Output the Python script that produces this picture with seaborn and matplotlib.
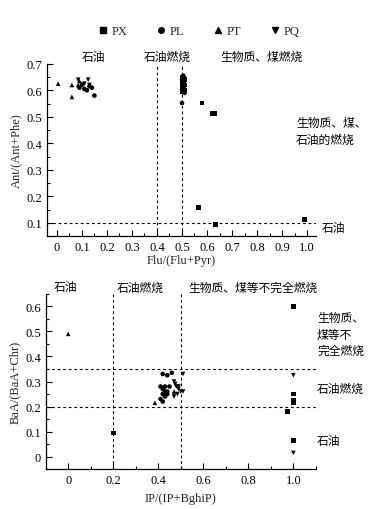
import numpy as np
import pandas as pd
import matplotlib
matplotlib.use("Agg")
import matplotlib.pyplot as plt
from matplotlib.lines import Line2D
from matplotlib.ticker import MultipleLocator, FuncFormatter
import seaborn as sns

# ---------------- data ----------------
groups = ["PX", "PL", "PT", "PQ"]
markers = {"PX": "s", "PL": "o", "PT": "^", "PQ": "v"}

# top panel: Flu/(Flu+Pyr) vs Ant/(Ant+Phe)
top_px_x = [0.50, 0.505, 0.51, 0.50, 0.505, 0.51, 0.50, 0.505, 0.51, 0.50, 0.505, 0.58, 0.62, 0.63, 0.567, 0.635, 0.99]
top_px_y = [0.65, 0.645, 0.64, 0.63, 0.625, 0.62, 0.61, 0.605, 0.60, 0.595, 0.635, 0.552, 0.512, 0.512, 0.157, 0.093, 0.113]
top_pl_x = [0.09, 0.11, 0.12, 0.13, 0.14, 0.15, 0.10, 0.50, 0.505, 0.51, 0.50, 0.505]
top_pl_y = [0.61, 0.605, 0.60, 0.615, 0.61, 0.58, 0.62, 0.552, 0.615, 0.59, 0.64, 0.655]
top_pt_x = [0.005, 0.06, 0.06, 0.09, 0.10, 0.085]
top_pt_y = [0.625, 0.62, 0.575, 0.635, 0.625, 0.62]
top_pq_x = [0.085, 0.125, 0.11, 0.13]
top_pq_y = [0.64, 0.64, 0.625, 0.62]

# bottom panel: IP/(IP+BghiP) vs BaA/(BaA+Chr)
bot_px_x = [0.20, 1.00, 1.00, 1.00, 1.00, 0.975, 1.00]
bot_px_y = [0.095, 0.60, 0.25, 0.225, 0.215, 0.18, 0.065]
bot_pl_x = [0.41, 0.42, 0.43, 0.42, 0.43, 0.41, 0.42, 0.44, 0.43, 0.44, 0.42, 0.44, 0.46, 0.45]
bot_pl_y = [0.28, 0.27, 0.28, 0.25, 0.24, 0.23, 0.22, 0.26, 0.26, 0.25, 0.33, 0.325, 0.335, 0.28]
bot_pt_x = [0.00, 0.385, 0.47]
bot_pt_y = [0.49, 0.215, 0.26]
bot_pq_x = [0.47, 0.475, 0.48, 0.49, 0.50, 0.51, 0.485, 0.47, 0.49, 0.51, 1.00, 1.00]
bot_pq_y = [0.30, 0.29, 0.28, 0.27, 0.26, 0.26, 0.25, 0.24, 0.28, 0.33, 0.325, 0.015]


def frame(xs, ys):
    rows = []
    for g, x, y in zip(groups, xs, ys):
        for a, b in zip(x, y):
            rows.append((g, a, b))
    return pd.DataFrame(rows, columns=["group", "x", "y"])


top_df = frame([top_px_x, top_pl_x, top_pt_x, top_pq_x], [top_px_y, top_pl_y, top_pt_y, top_pq_y])
bot_df = frame([bot_px_x, bot_pl_x, bot_pt_x, bot_pq_x], [bot_px_y, bot_pl_y, bot_pt_y, bot_pq_y])

# ---------------- style ----------------
sns.set_theme(style="ticks")
plt.rcParams["font.family"] = ["Liberation Serif", "Noto Sans CJK SC"]
plt.rcParams["axes.unicode_minus"] = False

fig = plt.figure(figsize=(3.81, 5.10), dpi=100)
ax1 = fig.add_axes([0.123, 0.535, 0.706, 0.338])
ax2 = fig.add_axes([0.120, 0.078, 0.709, 0.344])

fmt = FuncFormatter(lambda v, p: "0" if abs(v) < 1e-9 else f"{v:.1f}")
dash = dict(color="black", lw=0.8, ls=(0, (2.5, 2.5)))
cjk = ["Noto Sans CJK SC", "Liberation Serif"]
fs_cn = 8.5

for ax, df in [(ax1, top_df), (ax2, bot_df)]:
    sns.scatterplot(data=df, x="x", y="y", style="group", markers=markers,
                    style_order=groups, color="black", s=11, linewidth=0,
                    edgecolor="black", legend=False, ax=ax)
    for side in ["top", "right"]:
        ax.spines[side].set_visible(False)
    for side in ["left", "bottom"]:
        ax.spines[side].set_linewidth(0.9)
        ax.spines[side].set_color("black")
    ax.tick_params(which="both", direction="in", labelsize=9, colors="black")
    ax.tick_params(which="major", length=4, width=0.8)
    ax.tick_params(which="minor", length=2.5, width=0.8)
    ax.xaxis.set_major_formatter(fmt)
    ax.yaxis.set_major_formatter(fmt)

# top panel
ax1.set_xlim(-0.04, 1.035)
ax1.set_ylim(0.05, 0.70)
ax1.set_xticks(np.round(np.arange(0, 1.01, 0.1), 1))
ax1.xaxis.set_minor_locator(MultipleLocator(0.05))
ax1.set_yticks(np.round(np.arange(0.1, 0.71, 0.1), 1))
ax1.yaxis.set_minor_locator(MultipleLocator(0.05))
ax1.axvline(0.4, **dash)
ax1.axvline(0.5, **dash)
ax1.axhline(0.1, **dash)
ax1.set_xlabel("Flu/(Flu+Pyr)", fontsize=9, labelpad=1)
ax1.set_ylabel("Ant/(Ant+Phe)", fontsize=9, labelpad=3)

# bottom panel
ax2.set_xlim(-0.1, 1.1)
ax2.set_ylim(-0.05, 0.65)
ax2.set_xticks([0, 0.2, 0.4, 0.6, 0.8, 1.0])
ax2.xaxis.set_minor_locator(MultipleLocator(0.1))
ax2.set_yticks([0, 0.1, 0.2, 0.3, 0.4, 0.5, 0.6])
ax2.yaxis.set_minor_locator(MultipleLocator(0.05))
ax2.axvline(0.2, **dash)
ax2.axvline(0.5, **dash)
ax2.axhline(0.35, **dash)
ax2.axhline(0.2, **dash)
ax2.set_xlabel("IP/(IP+BghiP)", fontsize=9, labelpad=4)
ax2.set_ylabel("BaA/(BaA+Chr)", fontsize=9, labelpad=3)

# legend at top
handles = [Line2D([], [], marker=markers[g], color="black", ls="none", markersize=4)
           for g in groups]
fig.legend(handles, groups, loc="center", bbox_to_anchor=(0.52, 0.937), ncol=4,
           frameon=False, fontsize=9, handletextpad=0.2, columnspacing=2.2,
           handlelength=1.0)


def ftext(px, py, s, ha="center"):
    fig.text(px / 381, 1 - py / 510, s, ha=ha, va="center", fontsize=fs_cn,
             family=cjk, color="black", linespacing=1.35)


# top annotations
ftext(93, 57, "石油")
ftext(167, 57, "石油燃烧")
ftext(262, 57, "生物质、煤燃烧")
ftext(296, 132, "生物质、煤、\n石油的燃烧", ha="left")
ftext(322, 229, "石油", ha="left")

# bottom annotations
ftext(65, 288, "石油")
ftext(140, 288, "石油燃烧")
ftext(253, 288, "生物质、煤等不完全燃烧")
ftext(317, 335, "生物质、\n煤等不\n完全燃烧", ha="left")
ftext(317, 389, "石油燃烧", ha="left")
ftext(317, 441, "石油", ha="left")

fig.savefig("out.png", dpi=100)
